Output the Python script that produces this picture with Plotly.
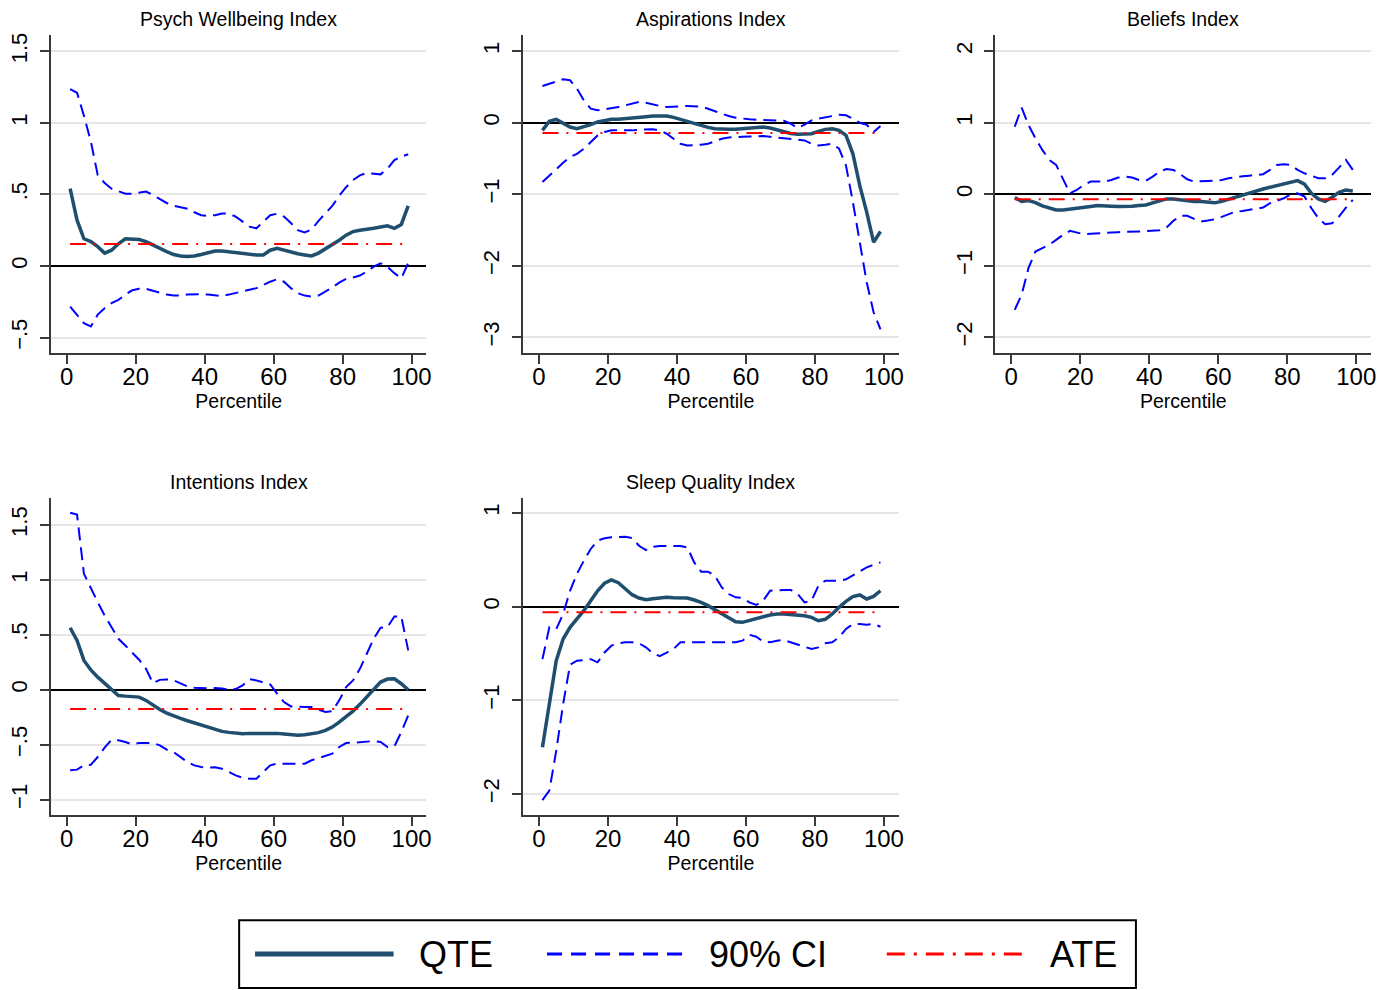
import plotly.graph_objects as go

W, H = 1397, 990          # browser window / figure size
FONT = "Liberation Sans, Arial, Helvetica, sans-serif"

# ---------------- data ----------------
pct = list(range(1, 100, 2))  # percentiles 1,3,...,99

titles = ["Psych Wellbeing Index", "Aspirations Index", "Beliefs Index",
          "Intentions Index", "Sleep Quality Index"]

psych_qte = [0.54, 0.32, 0.19, 0.17, 0.135, 0.09, 0.11, 0.155, 0.19, 0.19,
             0.185, 0.17, 0.145, 0.125, 0.10, 0.08, 0.07, 0.067, 0.07, 0.08,
             0.095, 0.105, 0.105, 0.10, 0.095, 0.085, 0.08, 0.077, 0.077, 0.11,
             0.123, 0.11, 0.095, 0.085, 0.077, 0.07, 0.09, 0.12, 0.146, 0.18,
             0.215, 0.24, 0.25, 0.255, 0.263, 0.272, 0.28, 0.263, 0.29, 0.42]
psych_hi = [1.235, 1.21, 1.05, 0.87, 0.635, 0.58, 0.54, 0.52, 0.505, 0.505,
            0.51, 0.52, 0.495, 0.467, 0.44, 0.42, 0.41, 0.40, 0.375, 0.355,
            0.35, 0.355, 0.367, 0.365, 0.345, 0.31, 0.275, 0.263, 0.31, 0.355,
            0.365, 0.345, 0.30, 0.25, 0.235, 0.255, 0.315, 0.365, 0.42, 0.49,
            0.55, 0.60, 0.633, 0.65, 0.647, 0.64, 0.68, 0.74, 0.763, 0.78]
psych_lo = [-0.284, -0.34, -0.40, -0.423, -0.34, -0.295, -0.26, -0.237, -0.20, -0.17,
            -0.16, -0.16, -0.175, -0.19, -0.20, -0.207, -0.207, -0.20, -0.198, -0.198,
            -0.20, -0.207, -0.21, -0.20, -0.19, -0.175, -0.165, -0.155, -0.133, -0.11,
            -0.093, -0.11, -0.155, -0.19, -0.207, -0.214, -0.207, -0.18, -0.15, -0.116,
            -0.09, -0.08, -0.067, -0.04, -0.005, 0.018, -0.005, -0.05, -0.086, 0.02]
psych_ate = 0.153

asp_qte = [-0.107, 0.02, 0.047, 0.0, -0.06, -0.084, -0.06, -0.028, 0.01, 0.033,
           0.047, 0.05, 0.056, 0.065, 0.075, 0.084, 0.093, 0.098, 0.093, 0.075,
           0.047, 0.01, -0.019, -0.047, -0.065, -0.084, -0.093, -0.093, -0.093, -0.084,
           -0.075, -0.065, -0.06, -0.075, -0.103, -0.13, -0.15, -0.16, -0.16, -0.154,
           -0.12, -0.093, -0.084, -0.107, -0.178, -0.435, -0.88, -1.25, -1.67, -1.52]
asp_hi = [0.514, 0.547, 0.584, 0.607, 0.593, 0.477, 0.313, 0.196, 0.173, 0.187,
          0.206, 0.22, 0.243, 0.266, 0.29, 0.28, 0.252, 0.234, 0.22, 0.22,
          0.229, 0.234, 0.234, 0.224, 0.196, 0.159, 0.126, 0.093, 0.07, 0.056,
          0.047, 0.042, 0.037, 0.037, 0.033, 0.028, -0.014, -0.075, -0.028, 0.033,
          0.056, 0.07, 0.093, 0.112, 0.103, 0.056, 0.0, -0.028, -0.13, -0.047]
asp_lo = [-0.83, -0.74, -0.645, -0.56, -0.48, -0.435, -0.364, -0.27, -0.178, -0.13,
          -0.107, -0.107, -0.112, -0.107, -0.098, -0.093, -0.093, -0.107, -0.154, -0.224,
          -0.294, -0.318, -0.318, -0.308, -0.294, -0.262, -0.224, -0.206, -0.196, -0.196,
          -0.192, -0.187, -0.187, -0.196, -0.206, -0.215, -0.224, -0.234, -0.248, -0.294,
          -0.318, -0.308, -0.294, -0.364, -0.598, -1.11, -1.67, -2.23, -2.65, -2.89]
asp_ate = -0.145

bel_qte = [-0.047, -0.10, -0.088, -0.116, -0.163, -0.195, -0.22, -0.22, -0.205, -0.195,
           -0.186, -0.172, -0.158, -0.158, -0.167, -0.172, -0.172, -0.167, -0.158, -0.149,
           -0.12, -0.093, -0.065, -0.065, -0.079, -0.093, -0.10, -0.10, -0.112, -0.12,
           -0.10, -0.07, -0.037, -0.009, 0.019, 0.047, 0.074, 0.098, 0.121, 0.144,
           0.172, 0.19, 0.14, 0.014, -0.065, -0.10, -0.042, 0.028, 0.06, 0.047]
bel_hi = [0.944, 1.21, 0.967, 0.78, 0.62, 0.48, 0.41, 0.20, 0.014, 0.06,
          0.13, 0.177, 0.177, 0.177, 0.20, 0.233, 0.247, 0.233, 0.20, 0.19,
          0.247, 0.316, 0.353, 0.34, 0.28, 0.21, 0.177, 0.177, 0.186, 0.19,
          0.20, 0.223, 0.242, 0.251, 0.26, 0.27, 0.28, 0.34, 0.41, 0.42,
          0.41, 0.34, 0.293, 0.26, 0.223, 0.223, 0.27, 0.372, 0.48, 0.34]
bel_lo = [-1.614, -1.405, -1.03, -0.80, -0.753, -0.707, -0.637, -0.567, -0.512, -0.535,
          -0.558, -0.553, -0.544, -0.54, -0.535, -0.53, -0.53, -0.526, -0.52, -0.516,
          -0.512, -0.502, -0.465, -0.372, -0.302, -0.302, -0.344, -0.381, -0.367, -0.349,
          -0.316, -0.279, -0.242, -0.233, -0.219, -0.205, -0.186, -0.126, -0.093, -0.056,
          0.0, 0.014, -0.033, -0.195, -0.335, -0.42, -0.405, -0.312, -0.186, -0.079]
bel_ate = -0.07

int_qte = [0.564, 0.448, 0.267, 0.18, 0.115, 0.06, 0.009, -0.052, -0.058, -0.06,
           -0.067, -0.097, -0.142, -0.18, -0.212, -0.24, -0.26, -0.282, -0.303, -0.324,
           -0.342, -0.364, -0.379, -0.388, -0.397, -0.40, -0.397, -0.397, -0.397, -0.39,
           -0.397, -0.403, -0.412, -0.415, -0.41, -0.403, -0.39, -0.37, -0.34, -0.294,
           -0.248, -0.194, -0.133, -0.067, 0.009, 0.07, 0.097, 0.10, 0.055, 0.0]
int_hi = [1.61, 1.594, 1.055, 0.918, 0.797, 0.676, 0.57, 0.464, 0.403, 0.342,
          0.273, 0.19, 0.06, 0.09, 0.094, 0.085, 0.055, 0.03, 0.018, 0.012,
          0.012, 0.015, 0.012, 0.0, 0.006, 0.04, 0.097, 0.085, 0.07, 0.048,
          -0.036, -0.112, -0.152, -0.158, -0.158, -0.158, -0.18, -0.203, -0.194, -0.097,
          0.024, 0.085, 0.19, 0.327, 0.464, 0.564, 0.57, 0.667, 0.667, 0.358]
int_lo = [-0.733, -0.727, -0.688, -0.682, -0.612, -0.527, -0.455, -0.46, -0.476, -0.497,
          -0.485, -0.482, -0.485, -0.506, -0.545, -0.567, -0.612, -0.658, -0.688, -0.703,
          -0.709, -0.706, -0.718, -0.748, -0.779, -0.80, -0.809, -0.809, -0.748, -0.688,
          -0.673, -0.673, -0.673, -0.679, -0.673, -0.642, -0.621, -0.606, -0.582, -0.521,
          -0.485, -0.482, -0.476, -0.47, -0.467, -0.476, -0.521, -0.515, -0.385, -0.233]
int_ate = -0.176

slp_qte = [-1.50, -1.04, -0.576, -0.345, -0.22, -0.13, -0.043, 0.064, 0.17, 0.25,
           0.285, 0.256, 0.19, 0.128, 0.093, 0.075, 0.085, 0.093, 0.10, 0.096,
           0.096, 0.093, 0.071, 0.046, 0.011, -0.032, -0.078, -0.125, -0.16, -0.167,
           -0.15, -0.125, -0.107, -0.089, -0.078, -0.078, -0.082, -0.089, -0.096, -0.114,
           -0.15, -0.135, -0.078, -0.007, 0.057, 0.107, 0.125, 0.082, 0.11, 0.17]
slp_hi = [-0.56, -0.22, -0.24, -0.078, 0.17, 0.35, 0.49, 0.616, 0.705, 0.73,
          0.74, 0.747, 0.747, 0.733, 0.65, 0.605, 0.64, 0.648, 0.648, 0.648,
          0.648, 0.633, 0.473, 0.374, 0.374, 0.33, 0.206, 0.135, 0.10, 0.093,
          0.046, 0.018, 0.064, 0.17, 0.178, 0.178, 0.178, 0.135, 0.046, 0.064,
          0.224, 0.278, 0.278, 0.278, 0.292, 0.33, 0.377, 0.42, 0.448, 0.473]
slp_lo = [-2.064, -1.964, -1.537, -1.04, -0.62, -0.576, -0.57, -0.56, -0.594, -0.488,
          -0.416, -0.391, -0.38, -0.38, -0.391, -0.434, -0.498, -0.527, -0.491, -0.452,
          -0.38, -0.38, -0.38, -0.38, -0.38, -0.38, -0.38, -0.38, -0.38, -0.363,
          -0.30, -0.32, -0.374, -0.38, -0.363, -0.356, -0.38, -0.40, -0.427, -0.452,
          -0.434, -0.391, -0.38, -0.327, -0.238, -0.185, -0.185, -0.192, -0.185, -0.214]
slp_ate = -0.06

x_ticks = [0, 20, 40, 60, 80, 100]

# ---------------- layout config ----------------
panels = [
    dict(title=titles[0], qte=psych_qte, hi=psych_hi, lo=psych_lo, ate=psych_ate,
         yr=[-0.61, 1.614], yt=[-0.5, 0, 0.5, 1, 1.5], ytt=["\u2212.5", "0", ".5", "1", "1.5"],
         box=(51, 33, 428, 352)),
    dict(title=titles[1], qte=asp_qte, hi=asp_hi, lo=asp_lo, ate=asp_ate,
         yr=[-3.223, 1.227], yt=[-3, -2, -1, 0, 1], ytt=["\u22123", "\u22122", "\u22121", "0", "1"],
         box=(525, 33, 902, 352)),
    dict(title=titles[2], qte=bel_qte, hi=bel_hi, lo=bel_lo, ate=bel_ate,
         yr=[-2.223, 2.227], yt=[-2, -1, 0, 1, 2], ytt=["\u22122", "\u22121", "0", "1", "2"],
         box=(999, 33, 1376, 352)),
    dict(title=titles[3], qte=int_qte, hi=int_hi, lo=int_lo, ate=int_ate,
         yr=[-1.143, 1.745], yt=[-1, -0.5, 0, 0.5, 1, 1.5],
         ytt=["\u22121", "\u2212.5", "0", ".5", "1", "1.5"],
         box=(51, 497, 428, 815)),
    dict(title=titles[4], qte=slp_qte, hi=slp_hi, lo=slp_lo, ate=slp_ate,
         yr=[-2.227, 1.16], yt=[-2, -1, 0, 1], ytt=["\u22122", "\u22121", "0", "1"],
         box=(525, 497, 902, 815)),
]


def px(x):
    return x / W


def py(y):
    return 1 - y / H


NAVY = "#1f4e6e"
BLUE = "#0000ff"
RED = "#ff0000"
AXC = "#3a3a3a"

fig = go.Figure()
annotations = []
shapes = []

for i, p in enumerate(panels):
    sfx = "" if i == 0 else str(i + 1)
    xa, ya = "x" + sfx, "y" + sfx
    x0, y0, x1, y1 = p["box"]
    fig.add_trace(go.Scatter(x=pct, y=p["qte"], mode="lines", xaxis=xa, yaxis=ya,
                             line=dict(color=NAVY, width=3.5), showlegend=False, name="QTE"))
    fig.add_trace(go.Scatter(x=pct, y=p["hi"], mode="lines", xaxis=xa, yaxis=ya,
                             line=dict(color=BLUE, width=2, dash="13px,7px"),
                             showlegend=False, name="90% CI"))
    fig.add_trace(go.Scatter(x=pct, y=p["lo"], mode="lines", xaxis=xa, yaxis=ya,
                             line=dict(color=BLUE, width=2, dash="13px,7px"),
                             showlegend=False, name="90% CI"))
    fig.add_trace(go.Scatter(x=[pct[0], pct[-1]], y=[p["ate"], p["ate"]], mode="lines",
                             xaxis=xa, yaxis=ya,
                             line=dict(color=RED, width=2, dash="16px,8px,2px,8px"),
                             showlegend=False, name="ATE"))
    fig.layout["xaxis" + sfx] = dict(
        domain=[px(x0), px(x1)], anchor=ya, range=[-4.6, 104.3], tickvals=x_ticks,
        ticktext=[str(v) for v in x_ticks], ticks="outside", ticklen=9, tickwidth=1.5,
        tickcolor=AXC, showline=True, linecolor=AXC, linewidth=2, showgrid=False,
        zeroline=False, tickfont=dict(family=FONT, size=24, color="black"),
        ticklabelstandoff=-8,
        title=dict(text="Percentile", font=dict(family=FONT, size=19.5, color="black"),
                   standoff=2),
        fixedrange=True)
    fig.layout["yaxis" + sfx] = dict(
        domain=[py(y1), py(y0)], anchor=xa, range=p["yr"], tickvals=p["yt"], ticktext=p["ytt"],
        ticks="outside", ticklen=9, tickwidth=1.5, tickcolor=AXC, showline=True,
        linecolor=AXC, linewidth=2, showgrid=True, gridcolor="#e6e6e6", gridwidth=2,
        zeroline=True, zerolinecolor="black", zerolinewidth=2, tickangle=-90,
        ticklabelstandoff=4,
        tickfont=dict(family=FONT, size=22, color="black"), fixedrange=True)
    ty = 17 if i < 3 else 481
    annotations.append(dict(text=p["title"], x=px((x0 + x1) / 2), y=py(ty),
                            xref="paper", yref="paper", showarrow=False,
                            xanchor="center", yanchor="middle",
                            font=dict(family=FONT, size=19.5, color="black")))

# ---------------- manual legend ----------------
legend_items = [("QTE", NAVY, 5, "solid", 256, 395, 418),
                ("90% CI", BLUE, 3, "15px,9px", 549, 690, 710),
                ("ATE", RED, 3, "18px,9px,3px,9px", 890, 1030, 1052)]
ly = 954
shapes.append(dict(type="rect", xref="paper", yref="paper", x0=px(240), x1=px(1140),
                   y0=py(988), y1=py(920), line=dict(color="black", width=2),
                   fillcolor="white", layer="below"))
for label, col, wdt, dash, lx0, lx1, tx in legend_items:
    shapes.append(dict(type="line", xref="paper", yref="paper", x0=px(lx0), x1=px(lx1),
                       y0=py(ly), y1=py(ly), line=dict(color=col, width=wdt, dash=dash)))
    annotations.append(dict(text=label, x=px(tx), y=py(ly), xref="paper", yref="paper",
                            showarrow=False, xanchor="left", yanchor="middle",
                            font=dict(family=FONT, size=36, color="black")))

fig.update_layout(width=W, height=H, margin=dict(l=0, r=0, t=0, b=0),
                  paper_bgcolor="white", plot_bgcolor="white", showlegend=False,
                  annotations=annotations, shapes=shapes,
                  font=dict(family=FONT, color="black"))

# remove the default 8px page margin so the figure fills the window exactly
fig.write_html("out.html", config={"displayModeBar": False},
               post_script="document.body.style.margin='0';document.body.style.overflow='hidden';")
